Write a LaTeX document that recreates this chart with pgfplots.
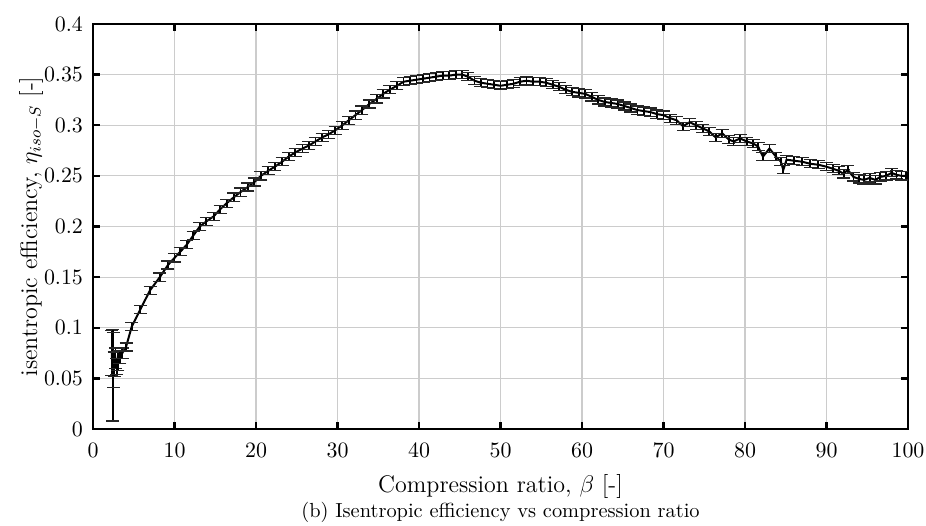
\documentclass[border=0pt]{standalone}
\usepackage{pgfplots}
\pgfplotsset{compat=1.18}
\usepackage{pgfplotstable}
\pgfplotstableread{
x y ey
2.30 0.075 0.022
2.42 0.053 0.045
2.50 0.068 0.027
2.60 0.064 0.012
2.75 0.070 0.010
2.90 0.062 0.008
3.05 0.067 0.009
3.30 0.071 0.006
3.60 0.075 0.005
4.05 0.081 0.004
4.75 0.101 0.004
5.8 0.118 0.004
7.0 0.137 0.004
8.2 0.150 0.004
9.2 0.162 0.004
10.0 0.169 0.004
10.7 0.175 0.004
11.5 0.182 0.004
12.3 0.191 0.004
13.1 0.200 0.004
13.9 0.205 0.004
14.8 0.210 0.004
15.6 0.217 0.004
16.4 0.223 0.004
17.3 0.229 0.004
18.1 0.234 0.004
19.0 0.239 0.004
19.8 0.244 0.004
20.6 0.250 0.004
21.5 0.255 0.004
22.3 0.259 0.004
23.2 0.264 0.004
24.0 0.269 0.004
24.8 0.273 0.004
25.7 0.277 0.004
26.5 0.280 0.004
27.3 0.284 0.004
28.1 0.288 0.004
28.9 0.291 0.004
29.7 0.295 0.004
30.6 0.300 0.004
31.4 0.305 0.004
32.2 0.310 0.004
33.0 0.315 0.004
33.9 0.321 0.004
34.8 0.326 0.004
35.6 0.331 0.004
36.4 0.335 0.004
37.3 0.339 0.004
38.1 0.343 0.004
38.9 0.344 0.004
39.7 0.345 0.004
40.5 0.346 0.004
41.3 0.347 0.004
42.1 0.348 0.004
42.9 0.349 0.004
43.7 0.349 0.004
44.5 0.350 0.004
45.3 0.350 0.004
46.0 0.348 0.004
46.8 0.344 0.004
47.6 0.342 0.004
48.4 0.341 0.004
49.2 0.340 0.004
50.0 0.339 0.004
50.8 0.340 0.004
51.6 0.341 0.004
52.4 0.343 0.004
53.2 0.344 0.004
54.0 0.343 0.004
54.8 0.343 0.004
55.6 0.342 0.004
56.4 0.340 0.004
57.2 0.338 0.004
58.0 0.335 0.004
58.8 0.333 0.004
59.6 0.332 0.004
60.4 0.331 0.004
61.2 0.328 0.004
62.0 0.325 0.004
62.8 0.323 0.004
63.6 0.322 0.004
64.4 0.321 0.004
65.2 0.319 0.004
66.0 0.317 0.004
66.8 0.315 0.004
67.6 0.314 0.004
68.4 0.313 0.004
69.2 0.311 0.004
70.0 0.310 0.004
70.8 0.307 0.004
71.6 0.305 0.004
72.4 0.299 0.004
73.2 0.303 0.004
74.0 0.300 0.004
74.8 0.297 0.004
75.6 0.294 0.004
76.4 0.288 0.004
77.2 0.292 0.004
78.0 0.286 0.004
78.6 0.284 0.004
79.4 0.287 0.004
80.2 0.284 0.004
81.0 0.282 0.004
81.6 0.279 0.004
82.2 0.269 0.004
83.0 0.277 0.004
83.8 0.269 0.004
84.4 0.264 0.004
84.7 0.256 0.004
85.1 0.266 0.004
86.0 0.265 0.004
87.0 0.264 0.004
88.0 0.262 0.004
89.0 0.261 0.004
90.0 0.259 0.004
90.8 0.257 0.004
91.5 0.255 0.004
92.1 0.252 0.004
92.6 0.256 0.004
93.3 0.249 0.004
94.0 0.247 0.004
94.6 0.246 0.004
95.3 0.248 0.004
96.0 0.246 0.004
96.6 0.249 0.004
97.3 0.250 0.004
98.0 0.253 0.004
98.6 0.251 0.004
99.2 0.250 0.004
99.8 0.250 0.004
}\datatable
\begin{document}
\begin{tikzpicture}
\begin{axis}[
  name=ax,
  at={(0,0)}, anchor=south west,
  scale only axis,
  width=407.5pt, height=202.5pt,
  xmin=0, xmax=100, ymin=0, ymax=0.4,
  xtick={0,10,...,100},
  ytick={0,0.05,...,0.4},
  scaled y ticks=false,
  ticklabel style={font=\fontsize{10.5}{12}\selectfont},
  xticklabel style={yshift=-3.5pt},
  yticklabel style={xshift=-1.5pt, /pgf/number format/fixed, /pgf/number format/precision=2},
  grid=major,
  grid style={gray!40, line width=0.6pt},
  axis line style={line width=1.2pt},
  tick style={line width=1.2pt, black},
  major tick length=3.5pt,
  tick align=inside,
  xlabel={Compression ratio, $\beta$ [-]},
  ylabel={isentropic efficiency, $\eta_{iso-S}$ [-]},
  label style={font=\large},
  xlabel style={at={(axis description cs:0.5,-0.158)}, anchor=base},
  ylabel style={at={(axis description cs:-0.0687,0.5)}, anchor=base},
]
\addplot[black, line width=1pt, mark=none,
  error bars/.cd, y dir=both, y explicit,
  error bar style={line width=0.9pt, black},
  error mark options={mark size=3.25pt, line width=0.6pt, black!85, rotate=90}]
  table[x=x, y=y, y error=ey] {\datatable};
\end{axis}
\node[anchor=base] at ([yshift=-44.3pt]ax.south) {\fontsize{10.2}{12}\selectfont (b) Isentropic efficiency vs compression ratio};
\pgfresetboundingbox
\path[use as bounding box] (-46.5pt,-48pt) rectangle (416.5pt,214.5pt);
\end{tikzpicture}
\end{document}
